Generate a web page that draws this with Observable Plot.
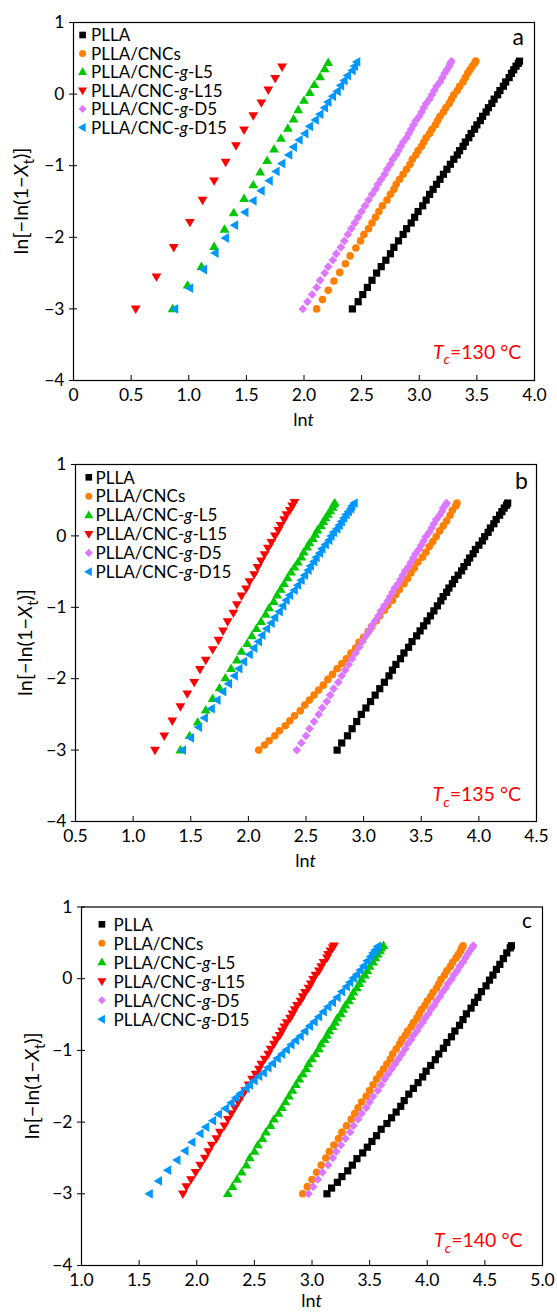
<!DOCTYPE html>
<html><head><meta charset="utf-8">
<script src="https://cdn.jsdelivr.net/npm/d3@7"></script>
<script src="https://cdn.jsdelivr.net/npm/@observablehq/plot@0.6"></script>
<style>
body{margin:0;background:#fff;}
#chart{width:557px;}
#chart svg{display:block;overflow:visible;}
</style></head><body><div id="chart"></div>
<script>
// ---------- categories / labels ----------
const seriesLabels = ["PLLA","PLLA/CNCs","PLLA/CNC-g-L5","PLLA/CNC-g-L15","PLLA/CNC-g-D5","PLLA/CNC-g-D15"];
const seriesColors = ["#000000","#ff8000","#00c800","#ff0000","#dd77ff","#0096ff"];
const panelLetters = ["a","b","c"];
const tcValues = ["130","135","140"];
const yTicks = [-4,-3,-2,-1,0,1];
const xTicksA = [0,0.5,1,1.5,2,2.5,3,3.5,4];
const xTicksB = [0.5,1,1.5,2,2.5,3,3.5,4,4.5];
const xTicksC = [1,1.5,2,2.5,3,3.5,4,4.5,5];

// y levels read along the dense (overlapping) bands
const avramiY = [-3.00,-2.90,-2.80,-2.70,-2.60,-2.50,-2.41,-2.32,-2.23,-2.14,-2.05,-1.96,-1.88,-1.80,-1.72,-1.64,-1.56,-1.48,-1.40,-1.33,-1.26,-1.19,-1.12,-1.05,-0.98,-0.91,-0.85,-0.79,-0.73,-0.67,-0.61,-0.55,-0.49,-0.43,-0.37,-0.31,-0.25,-0.19,-0.13,-0.07,-0.01,0.05,0.11,0.17,0.23,0.29,0.34,0.39,0.43,0.46];

// ---------- panel a (Tc = 130 °C) ----------
const a_PLLA_lnt = [2.42,2.47,2.51,2.55,2.59,2.63,2.67,2.71,2.75,2.78,2.82,2.86,2.89,2.93,2.96,2.99,3.03,3.06,3.09,3.12,3.15,3.18,3.21,3.24,3.27,3.30,3.33,3.35,3.38,3.40,3.43,3.45,3.48,3.50,3.53,3.55,3.58,3.60,3.63,3.65,3.68,3.70,3.73,3.75,3.78,3.80,3.82,3.84,3.86,3.87];
const a_PLLA_y = avramiY;
const a_CNCs_lnt = [2.11,2.16,2.21,2.26,2.31,2.36,2.40,2.45,2.49,2.52,2.56,2.59,2.62,2.65,2.68,2.72,2.75,2.78,2.80,2.83,2.86,2.89,2.92,2.94,2.97,2.99,3.02,3.04,3.06,3.09,3.11,3.14,3.16,3.18,3.21,3.23,3.26,3.28,3.30,3.33,3.35,3.38,3.40,3.42,3.44,3.46,3.48,3.49];
const a_CNCs_y = [-3.00,-2.87,-2.74,-2.61,-2.49,-2.37,-2.26,-2.15,-2.05,-1.96,-1.88,-1.80,-1.72,-1.64,-1.56,-1.48,-1.40,-1.33,-1.26,-1.19,-1.12,-1.05,-0.98,-0.91,-0.85,-0.79,-0.73,-0.67,-0.61,-0.55,-0.49,-0.43,-0.37,-0.31,-0.25,-0.19,-0.13,-0.07,-0.01,0.05,0.11,0.17,0.23,0.29,0.34,0.39,0.43,0.46];
const a_L5_lnt = [0.86,0.99,1.11,1.22,1.31,1.39,1.48,1.56,1.62,1.68,1.74,1.80,1.86,1.91,1.95,2.00,2.05,2.09,2.14,2.18,2.21];
const a_L5_y = [-3.00,-2.67,-2.41,-2.13,-1.89,-1.66,-1.46,-1.27,-1.09,-0.93,-0.77,-0.62,-0.48,-0.35,-0.22,-0.09,0.02,0.13,0.24,0.35,0.44];
const a_L15_lnt = [0.54,0.72,0.87,1.01,1.12,1.22,1.32,1.41,1.48,1.56,1.63,1.69,1.75,1.81];
const a_L15_y = [-3.00,-2.55,-2.14,-1.79,-1.48,-1.21,-0.95,-0.72,-0.50,-0.30,-0.12,0.06,0.22,0.38];
const a_D5_lnt = [1.99,2.03,2.07,2.11,2.14,2.18,2.21,2.25,2.28,2.32,2.35,2.38,2.41,2.44,2.47,2.50,2.53,2.56,2.59,2.62,2.64,2.67,2.70,2.72,2.75,2.77,2.80,2.82,2.84,2.86,2.89,2.91,2.93,2.95,2.97,3.00,3.02,3.04,3.06,3.09,3.11,3.13,3.15,3.18,3.20,3.22,3.24,3.26,3.27,3.28];
const a_D5_y = avramiY;
const a_D15_lnt = [0.88,1.01,1.13,1.23,1.32,1.40,1.49,1.56,1.63,1.70,1.76,1.81,1.87,1.91,1.96,2.01,2.05,2.10,2.14,2.18,2.21,2.25,2.29,2.32,2.35,2.38,2.42,2.44,2.46];
const a_D15_y = [-3.00,-2.71,-2.45,-2.22,-2.01,-1.83,-1.65,-1.49,-1.35,-1.21,-1.08,-0.97,-0.85,-0.74,-0.64,-0.55,-0.45,-0.36,-0.28,-0.19,-0.11,-0.03,0.04,0.12,0.19,0.26,0.33,0.39,0.45];

// ---------- panel b (Tc = 135 °C) ----------
const b_PLLA_lnt = [2.77,2.81,2.86,2.90,2.94,2.98,3.02,3.06,3.10,3.14,3.18,3.22,3.25,3.28,3.32,3.35,3.39,3.42,3.46,3.49,3.52,3.55,3.58,3.61,3.64,3.67,3.69,3.72,3.74,3.77,3.79,3.82,3.85,3.87,3.90,3.92,3.95,3.97,4.00,4.03,4.05,4.08,4.10,4.13,4.15,4.18,4.20,4.22,4.24,4.25];
const b_PLLA_y = avramiY;
const b_CNCs_lnt = [2.09,2.14,2.18,2.23,2.27,2.32,2.36,2.40,2.45,2.49,2.53,2.57,2.61,2.65,2.69,2.73,2.77,2.81,2.85,2.89,2.93,2.96,3.00,3.04,3.07,3.11,3.14,3.18,3.21,3.25,3.28,3.31,3.35,3.38,3.41,3.44,3.47,3.51,3.54,3.57,3.60,3.63,3.66,3.69,3.72,3.75,3.77,3.80,3.81];
const b_CNCs_y = [-3.00,-2.93,-2.87,-2.80,-2.73,-2.66,-2.59,-2.52,-2.45,-2.37,-2.30,-2.23,-2.16,-2.09,-2.01,-1.94,-1.86,-1.79,-1.72,-1.64,-1.57,-1.49,-1.42,-1.34,-1.27,-1.19,-1.12,-1.04,-0.97,-0.90,-0.82,-0.75,-0.67,-0.60,-0.52,-0.45,-0.37,-0.30,-0.23,-0.15,-0.08,-0.01,0.07,0.14,0.21,0.29,0.36,0.42,0.46];
const b_L5_lnt = [1.41,1.49,1.56,1.63,1.69,1.75,1.80,1.85,1.90,1.94,1.99,2.03,2.07,2.11,2.15,2.18,2.22,2.25,2.28,2.31,2.34,2.37,2.40,2.43,2.46,2.48,2.51,2.53,2.56,2.58,2.60,2.63,2.65,2.67,2.69,2.71,2.73,2.74,2.75];
const b_L5_y = [-3.00,-2.80,-2.61,-2.44,-2.28,-2.13,-1.99,-1.86,-1.74,-1.62,-1.51,-1.40,-1.30,-1.20,-1.10,-1.01,-0.92,-0.83,-0.75,-0.67,-0.59,-0.51,-0.44,-0.37,-0.30,-0.23,-0.16,-0.10,-0.04,0.02,0.08,0.14,0.20,0.25,0.30,0.35,0.40,0.44,0.46];
const b_L15_lnt = [1.19,1.27,1.34,1.41,1.47,1.53,1.58,1.63,1.69,1.74,1.78,1.82,1.87,1.90,1.94,1.98,2.01,2.05,2.08,2.11,2.14,2.17,2.20,2.23,2.26,2.28,2.31,2.33,2.36,2.38,2.40];
const b_L15_y = [-3.00,-2.80,-2.59,-2.39,-2.21,-2.05,-1.87,-1.74,-1.59,-1.46,-1.33,-1.20,-1.08,-0.96,-0.84,-0.74,-0.64,-0.54,-0.44,-0.35,-0.26,-0.17,-0.09,0.00,0.08,0.15,0.23,0.30,0.36,0.42,0.47];
const b_D5_lnt = [2.42,2.46,2.50,2.53,2.57,2.61,2.64,2.68,2.71,2.74,2.78,2.81,2.84,2.87,2.90,2.93,2.96,2.99,3.02,3.05,3.07,3.10,3.13,3.15,3.18,3.21,3.23,3.25,3.27,3.30,3.32,3.34,3.36,3.39,3.41,3.43,3.45,3.48,3.50,3.52,3.54,3.57,3.59,3.61,3.63,3.66,3.68,3.69,3.71,3.72];
const b_D5_y = avramiY;
const b_D15_lnt = [1.43,1.50,1.57,1.62,1.68,1.73,1.78,1.83,1.88,1.92,1.96,2.01,2.05,2.09,2.12,2.16,2.20,2.23,2.27,2.30,2.33,2.36,2.40,2.43,2.46,2.49,2.52,2.54,2.57,2.59,2.62,2.64,2.67,2.70,2.72,2.74,2.77,2.79,2.81,2.83,2.85,2.87,2.89,2.90,2.92];
const b_D15_y = [-3.00,-2.83,-2.68,-2.55,-2.42,-2.30,-2.18,-2.07,-1.96,-1.86,-1.76,-1.66,-1.57,-1.48,-1.39,-1.30,-1.22,-1.14,-1.06,-0.98,-0.90,-0.83,-0.76,-0.69,-0.62,-0.55,-0.48,-0.42,-0.36,-0.30,-0.24,-0.18,-0.12,-0.06,0.00,0.05,0.10,0.15,0.20,0.25,0.30,0.34,0.38,0.42,0.46];

// ---------- panel c (Tc = 140 °C) ----------
const c_PLLA_lnt = [3.13,3.17,3.22,3.26,3.31,3.35,3.39,3.44,3.48,3.52,3.56,3.60,3.65,3.69,3.73,3.77,3.80,3.84,3.88,3.92,3.96,3.99,4.03,4.07,4.10,4.14,4.17,4.21,4.24,4.28,4.31,4.34,4.38,4.41,4.44,4.47,4.51,4.54,4.57,4.60,4.63,4.66,4.69,4.72,4.73];
const c_PLLA_y = [-3.00,-2.92,-2.84,-2.76,-2.68,-2.60,-2.51,-2.43,-2.35,-2.27,-2.19,-2.10,-2.02,-1.94,-1.86,-1.78,-1.70,-1.61,-1.53,-1.45,-1.37,-1.29,-1.21,-1.13,-1.05,-0.97,-0.89,-0.81,-0.73,-0.65,-0.57,-0.49,-0.41,-0.33,-0.26,-0.18,-0.10,-0.02,0.05,0.13,0.20,0.28,0.36,0.43,0.46];
const c_CNCs_lnt = [2.92,2.96,3.00,3.04,3.08,3.12,3.15,3.19,3.23,3.26,3.30,3.34,3.37,3.40,3.43,3.47,3.50,3.53,3.56,3.59,3.62,3.65,3.68,3.70,3.73,3.76,3.78,3.81,3.83,3.86,3.88,3.91,3.93,3.95,3.98,4.00,4.03,4.05,4.08,4.10,4.12,4.15,4.17,4.20,4.22,4.25,4.27,4.29,4.30,4.31];
const c_CNCs_y = avramiY;
const c_L5_lnt = [2.27,2.31,2.35,2.39,2.43,2.46,2.50,2.53,2.57,2.60,2.64,2.67,2.71,2.74,2.77,2.80,2.83,2.86,2.89,2.92,2.95,2.97,3.00,3.03,3.06,3.08,3.11,3.13,3.15,3.18,3.20,3.22,3.25,3.27,3.29,3.32,3.34,3.36,3.39,3.41,3.43,3.46,3.48,3.50,3.53,3.55,3.57,3.59,3.60,3.62];
const c_L5_y = avramiY;
const c_L15_lnt = [1.88,1.91,1.95,1.99,2.03,2.07,2.10,2.13,2.17,2.20,2.24,2.27,2.30,2.33,2.36,2.39,2.42,2.45,2.48,2.51,2.54,2.56,2.59,2.62,2.64,2.67,2.69,2.72,2.74,2.76,2.78,2.81,2.83,2.85,2.87,2.90,2.92,2.94,2.97,2.99,3.01,3.03,3.06,3.08,3.10,3.13,3.14,3.16,3.18,3.19];
const c_L15_y = avramiY;
const c_D5_lnt = [2.97,3.01,3.05,3.09,3.14,3.18,3.21,3.25,3.29,3.33,3.36,3.40,3.43,3.47,3.50,3.53,3.57,3.60,3.63,3.66,3.69,3.72,3.75,3.78,3.81,3.83,3.86,3.88,3.91,3.93,3.96,3.98,4.01,4.03,4.06,4.08,4.11,4.13,4.16,4.18,4.21,4.23,4.26,4.28,4.31,4.33,4.35,4.37,4.39,4.40];
const c_D5_y = avramiY;
const c_D15_lnt = [1.59,1.67,1.75,1.83,1.90,1.96,2.03,2.08,2.14,2.19,2.25,2.30,2.34,2.38,2.43,2.46,2.50,2.54,2.58,2.62,2.66,2.70,2.74,2.78,2.82,2.86,2.90,2.94,2.98,3.02,3.06,3.10,3.14,3.18,3.22,3.26,3.30,3.33,3.36,3.39,3.42,3.45,3.48,3.51,3.53,3.55,3.57];
const c_D15_y = [-3.00,-2.82,-2.67,-2.53,-2.40,-2.28,-2.16,-2.07,-1.98,-1.89,-1.81,-1.73,-1.66,-1.60,-1.53,-1.48,-1.42,-1.36,-1.31,-1.24,-1.18,-1.11,-1.05,-0.99,-0.92,-0.86,-0.80,-0.73,-0.66,-0.60,-0.53,-0.46,-0.39,-0.33,-0.26,-0.18,-0.11,-0.05,0.01,0.06,0.12,0.18,0.25,0.31,0.36,0.40,0.45];

// ---------- assemble ----------
const zip = (xs, ys) => xs.map((x, i) => ({lnt: x, y: ys[i]}));
const panels = [
  {xDomain:[0,4], xTicks:xTicksA, series:[zip(a_PLLA_lnt,a_PLLA_y),zip(a_CNCs_lnt,a_CNCs_y),zip(a_L5_lnt,a_L5_y),zip(a_L15_lnt,a_L15_y),zip(a_D5_lnt,a_D5_y),zip(a_D15_lnt,a_D15_y)]},
  {xDomain:[0.5,4.5], xTicks:xTicksB, series:[zip(b_PLLA_lnt,b_PLLA_y),zip(b_CNCs_lnt,b_CNCs_y),zip(b_L5_lnt,b_L5_y),zip(b_L15_lnt,b_L15_y),zip(b_D5_lnt,b_D5_y),zip(b_D15_lnt,b_D15_y)]},
  {xDomain:[1,5], xTicks:xTicksC, series:[zip(c_PLLA_lnt,c_PLLA_y),zip(c_CNCs_lnt,c_CNCs_y),zip(c_L5_lnt,c_L5_y),zip(c_L15_lnt,c_L15_y),zip(c_D5_lnt,c_D5_y),zip(c_D15_lnt,c_D15_y)]}
];

// ---------- layout (positions / sizes) ----------
const layouts = [
  {height:440, mt:22,   mr:23, mb:60, ml:73, leg:{mx:9.6,  tx:18,   y0:13,   dy:18.5}, letter:{inset:10, base:23, size:23}, tc:{inset:12.7, base:21.2}, ylab:52, xlab:46},
  {height:442, mt:24,   mr:21, mb:61, ml:75, leg:{mx:13.8, tx:20.5, y0:13.3, dy:18.9}, letter:{inset:8,  base:25, size:23}, tc:{inset:15,   base:19.7}, ylab:50, xlab:46},
  {height:431, mt:24.5, mr:15, mb:48, ml:81, leg:{mx:20.9, tx:32.5, y0:17.8, dy:19},   letter:{inset:10, base:21.5, size:21}, tc:{inset:19.5, base:17.6}, ylab:49, xlab:42}
];
const FONT = "Lato, 'Noto Sans', sans-serif";

// ---------- symbols ----------
function poly(pts) {
  return {draw(ctx, size) {
    const k = Math.sqrt(size / Math.PI) / 4;
    ctx.moveTo(pts[0][0]*k, pts[0][1]*k);
    for (let i = 1; i < pts.length; i++) ctx.lineTo(pts[i][0]*k, pts[i][1]*k);
    ctx.closePath();
  }};
}
const circleSym = {draw(ctx, size) { const r = 3.8 * Math.sqrt(size/Math.PI)/4; ctx.moveTo(r, 0); ctx.arc(0, 0, r, 0, 2*Math.PI); }};
const symbols = [
  poly([[-3.6,-3.6],[3.6,-3.6],[3.6,3.6],[-3.6,3.6]]),
  circleSym,
  poly([[0,-5.1],[4.9,3.3],[-4.9,3.3]]),
  poly([[0,5.1],[4.9,-3.3],[-4.9,-3.3]]),
  poly([[0,-4.4],[4.4,0],[0,4.4],[-4.4,0]]),
  poly([[-5.1,0],[3.3,-4.9],[3.3,4.9]])
];
const drawOrder = [0,1,2,3,4,5];

// ---------- text helpers ----------
const NS = "http://www.w3.org/2000/svg";
function addText(svg, {x, y, size, anchor = "start", rotate = false, fill = "#000", parts}) {
  const t = document.createElementNS(NS, "text");
  t.setAttribute("font-family", FONT);
  t.setAttribute("font-size", size);
  t.setAttribute("fill", fill);
  t.setAttribute("text-anchor", anchor);
  if (rotate) t.setAttribute("transform", `translate(${x},${y}) rotate(-90)`);
  else { t.setAttribute("x", x); t.setAttribute("y", y); }
  let shifted = 0;
  for (const p of parts) {
    const s = document.createElementNS(NS, "tspan");
    if (p.i) s.setAttribute("font-style", "italic");
    const want = p.sub ? size * 0.28 : 0;
    if (want !== shifted) { s.setAttribute("dy", want - shifted); shifted = want; }
    if (p.sub) s.setAttribute("font-size", size * 0.72);
    s.textContent = p.t;
    t.appendChild(s);
  }
  svg.appendChild(t);
}
function labelParts(label) {
  const seg = label.split("-g-");
  if (seg.length === 1) return [{t: label}];
  return [{t: seg[0] + "-"}, {t: "g", i: true}, {t: "-" + seg[1]}];
}
const minusFmt = d => d < 0 ? "\u2212" + Math.abs(d) : String(d);

// ---------- draw ----------
const root = document.getElementById("chart");
panels.forEach((P, pi) => {
  const L = layouts[pi];
  const fw = 557 - L.ml - L.mr;
  const fh = L.height - L.mt - L.mb;
  const marks = [];
  marks.push(Plot.tickX(P.xTicks, {x: d => d, insetTop: fh - 5, stroke: "#000", strokeWidth: 1}));
  marks.push(Plot.tickY(yTicks, {y: d => d, insetRight: fw - 4, stroke: "#000", strokeWidth: 1}));
  for (const s of drawOrder) {
    marks.push(Plot.dot(P.series[s], {x: "lnt", y: "y", symbol: symbols[s], r: 4, fill: seriesColors[s], stroke: "none"}));
  }
  marks.push(Plot.frame({stroke: "#000", strokeWidth: 1.2}));
  const svg = Plot.plot({
    width: 557, height: L.height,
    marginTop: L.mt, marginRight: L.mr, marginBottom: L.mb, marginLeft: L.ml,
    x: {domain: P.xDomain, ticks: P.xTicks, tickFormat: d => (d === 0 ? "0" : d.toFixed(1)), tickSize: 0, tickPadding: 8, label: null},
    y: {domain: [-4, 1], ticks: yTicks, tickFormat: minusFmt, tickSize: 4, tickPadding: 5, label: null},
    style: {fontFamily: FONT, fontSize: "17.5px", color: "#000", background: "#fff", overflow: "visible"},
    marks
  });
  const fl = L.ml, fr = 557 - L.mr, ft = L.mt, fb = L.height - L.mb;
  // legend
  seriesLabels.forEach((lab, i) => {
    const cy = ft + L.leg.y0 + i * L.leg.dy;
    const p = d3.path();
    symbols[i].draw(p, 16 * Math.PI * 0.85);
    const path = document.createElementNS(NS, "path");
    path.setAttribute("d", p.toString());
    path.setAttribute("fill", seriesColors[i]);
    path.setAttribute("transform", `translate(${fl + L.leg.mx},${cy})`);
    svg.appendChild(path);
    addText(svg, {x: fl + L.leg.tx, y: cy + 6.2, size: 17, parts: labelParts(lab)});
  });
  // panel letter
  addText(svg, {x: fr - L.letter.inset, y: ft + L.letter.base, size: L.letter.size, anchor: "end", parts: [{t: panelLetters[pi]}]});
  // Tc annotation
  addText(svg, {x: fr - L.tc.inset, y: fb - L.tc.base, size: 19.5, anchor: "end", fill: "#ff0000",
    parts: [{t: "T", i: true}, {t: "c", i: true, sub: true}, {t: "=" + tcValues[pi] + " \u00B0C"}]});
  // x label
  addText(svg, {x: (fl + fr) / 2, y: fb + L.xlab, size: 18, anchor: "middle", parts: [{t: "ln"}, {t: "t", i: true}]});
  // y label
  addText(svg, {x: fl - L.ylab + 7, y: (ft + fb) / 2, size: 20, anchor: "middle", rotate: true,
    parts: [{t: "ln[\u2212ln(1\u2212"}, {t: "X", i: true}, {t: "t", sub: true}, {t: ")]"}]});
  root.appendChild(svg);
});
</script>
</body></html>
